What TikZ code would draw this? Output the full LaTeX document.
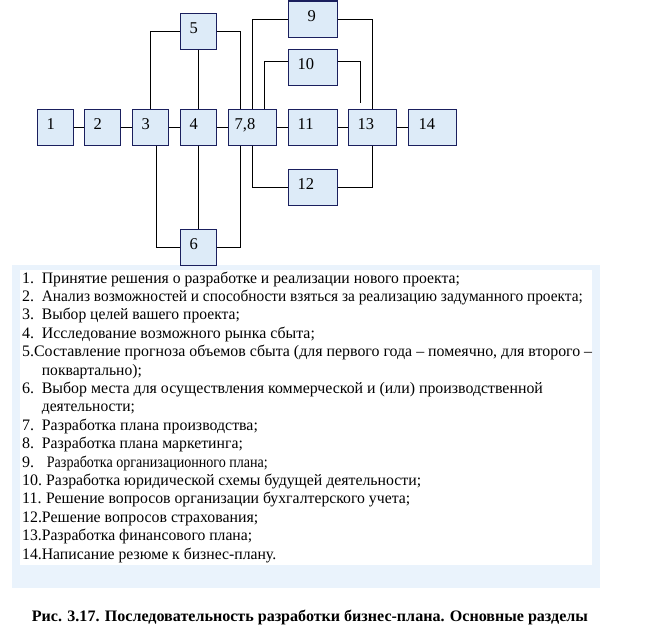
\documentclass[tikz,border=0pt]{standalone}
\usepackage{fontspec}
\setmainfont{Liberation Serif}
\usepackage{graphicx}
\usetikzlibrary{calc}
\definecolor{boxfill}{HTML}{DDEBF8}
\definecolor{boxline}{HTML}{1A1F5E}
\definecolor{panelblue}{HTML}{EAF3FC}
\newcommand\fw[2]{\resizebox{#1pt}{\height}{#2}}
\begin{document}
\begin{tikzpicture}[x=1pt,y=-1pt,
  blk/.style={draw=boxline, fill=boxfill, line width=1pt, minimum height=36pt, inner sep=0pt},
  lbl/.style={anchor=base west, inner sep=0pt, font=\fontsize{16.5}{18}\selectfont},
  ln/.style={anchor=base west, inner sep=0pt, font=\fontsize{16}{18}\selectfont},
  con/.style={draw=black, line width=1pt}]
\useasboundingbox (0,0) rectangle (648,637);
% panel
\fill[panelblue] (12,265) rectangle (600,588);
\fill[white] (20,270) rectangle (592,565);
% boxes
\node[blk, minimum width=36pt] (b1) at (55,127) {};
\node[blk, minimum width=36pt] (b2) at (102,127) {};
\node[blk, minimum width=36pt] (b3) at (150,127) {};
\node[blk, minimum width=36pt] (b4) at (198,127) {};
\node[blk, minimum width=48pt] (b78) at (252,127) {};
\node[blk, minimum width=36pt] (b5) at (198,31) {};
\node[blk, minimum width=36pt] (b6) at (198,247) {};
\node[blk, minimum width=49pt] (b9) at (312.5,19) {};
\node[blk, minimum width=49pt] (b10) at (312.5,67) {};
\node[blk, minimum width=49pt] (b11) at (312.5,127) {};
\node[blk, minimum width=49pt] (b12) at (312.5,187) {};
\node[blk, minimum width=48pt] (b13) at (372,127) {};
\node[blk, minimum width=48pt] (b14) at (432,127) {};
% labels
\node[lbl] (t1) at ($(b1.west)+(10,2)$) {1};
\node[lbl] (t2) at ($(b2.west)+(10,2)$) {2};
\node[lbl] (t3) at ($(b3.west)+(10,2)$) {3};
\node[lbl] (t4) at ($(b4.west)+(10,2)$) {4};
\node[lbl] (t78) at ($(b78.west)+(7,2)$) {7,8};
\node[lbl] (t5) at ($(b5.west)+(10,2)$) {5};
\node[lbl] (t6) at ($(b6.west)+(10,2)$) {6};
\node[lbl] (t9) at ($(b9.west)+(20,2)$) {9};
\node[lbl] (t10) at ($(b10.west)+(10,2)$) {10};
\node[lbl] (t11) at ($(b11.west)+(10,2)$) {11};
\node[lbl] (t12) at ($(b12.west)+(10,2)$) {12};
\node[lbl] (t13) at ($(b13.west)+(10,2)$) {13};
\node[lbl] (t14) at ($(b14.west)+(11,2)$) {14};
% connectors
\draw[con] (b1) -- (b2);
\draw[con] (b2) -- (b3);
\draw[con] (b3) -- (b4);
\draw[con] (b4) -- (b78);
\draw[con] (b78) -- (b11);
\draw[con] (b11) -- (b13);
\draw[con] (b13) -- (b14);
\draw[con] (b5) -- (b4);
\draw[con] (b4) -- (b6);
\draw[con] (b3.north) |- (b5.west);
\draw[con] (b5.east) -| ($(b78.north)+(-12,0)$);
\draw[con] ($(b3.south)+(6,0)$) |- (b6.west);
\draw[con] (b6.east) -| ($(b78.south)+(-12,0)$);
\draw[con] (b78.north) |- (b9.west);
\draw[con] ($(b78.north)+(12,0)$) |- ($(b10.west)+(0,-6)$);
\draw[con] (b9.east) -| (b13.north);
\coordinate (c10) at ($(b13.north)+(-12,-6)$);
\draw[con] ($(b10.east)+(0,-6)$) -| (c10);
\draw[con] (b78.south) |- (b12.west);
\draw[con] (b12.east) -| (b13.south);
% list
\node[ln] (n1) at (22,283) {1.};
\node[ln] (l1) at (41.7,283) {\fw{418}{Принятие решения о разработке и реализации нового проекта;}};
\node[ln] (n2) at (22,301.4) {2.};
\node[ln] (l2) at (41.7,301.4) {\fw{541}{Анализ возможностей и способности взяться за реализацию задуманного проекта;}};
\node[ln] (n3) at (22,319.8) {3.};
\node[ln] (l3) at (41.7,319.8) {\fw{198}{Выбор целей вашего проекта;}};
\node[ln] (n4) at (22,338.2) {4.};
\node[ln] (l4) at (41.7,338.2) {\fw{273}{Исследование возможного рынка сбыта;}};
\node[ln] (l5) at (22,356.6) {\fw{570}{5.Составление прогноза объемов сбыта (для первого года – помеячно, для второго –}};
\node[ln] (l5b) at (41.7,375) {\fw{100}{поквартально);}};
\node[ln] (n6) at (22,393.4) {6.};
\node[ln] (l6) at (41.7,393.4) {\fw{501}{Выбор места для осуществления коммерческой и (или) производственной}};
\node[ln] (l6b) at (41.7,411.8) {\fw{93}{деятельности;}};
\node[ln] (n7) at (22,430.2) {7.};
\node[ln] (l7) at (41.7,430.2) {\fw{216}{Разработка плана производства;}};
\node[ln] (n8) at (22,448.6) {8.};
\node[ln] (l8) at (41.7,448.6) {\fw{201}{Разработка плана маркетинга;}};
\node[ln] (n9) at (22,467) {9.};
\node[ln] (l9) at (46.7,467) {\fw{221}{Разработка организационного плана;}};
\node[ln] (n10) at (22,485.4) {10.};
\node[ln] (l10) at (46,485.4) {\fw{375}{Разработка юридической схемы будущей деятельности;}};
\node[ln] (n11) at (22,503.8) {11.};
\node[ln] (l11) at (46,503.8) {\fw{364}{Решение вопросов организации бухгалтерского учета;}};
\node[ln] (l12) at (22,522.2) {\fw{236}{12.Решение вопросов страхования;}};
\node[ln] (l13) at (22,540.6) {\fw{230}{13.Разработка финансового плана;}};
\node[ln] (l14) at (22,559) {\fw{254}{14.Написание резюме к бизнес-плану.}};
% caption
\node[ln, font=\fontsize{16}{18}\selectfont\bfseries] (cap) at (31.7,621) {\fw{556}{Рис. 3.17. Последовательность разработки бизнес-плана. Основные разделы}};
\end{tikzpicture}
\end{document}
